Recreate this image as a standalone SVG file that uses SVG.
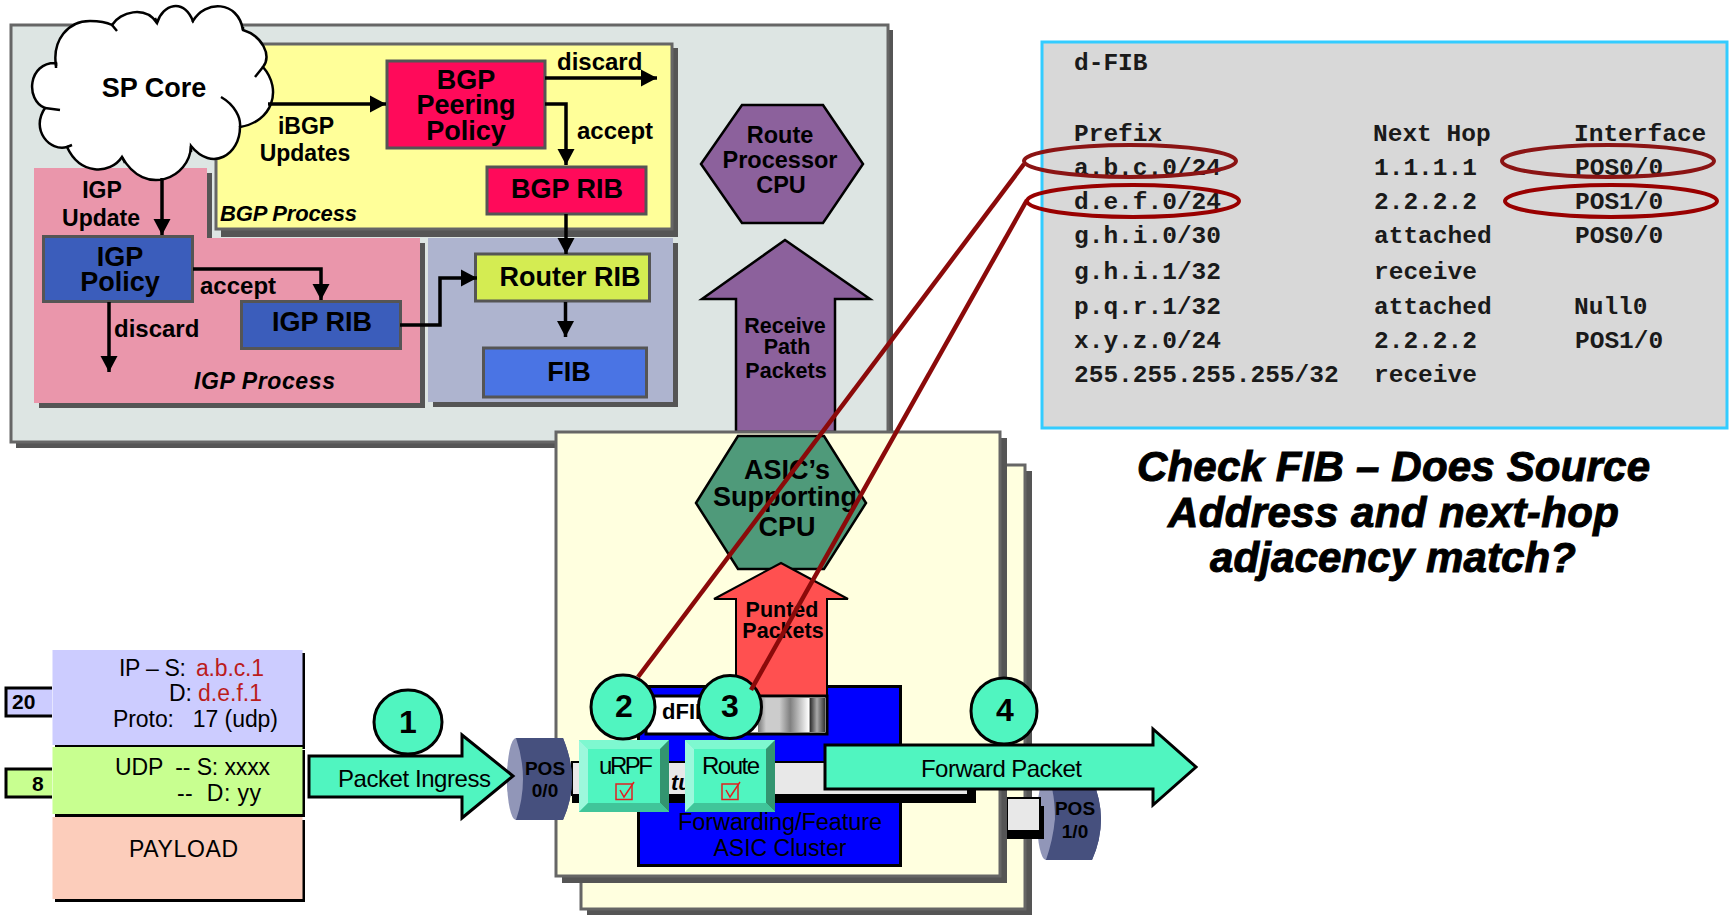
<svg xmlns="http://www.w3.org/2000/svg" width="1732" height="915" viewBox="0 0 1732 915">
<style>
text{font-family:"Liberation Sans",Arial,sans-serif;fill:#000}
.b{font-weight:bold}.m{text-anchor:middle}.i{font-style:italic;font-weight:bold}
.s{fill:#555;stroke:none}
.panel{stroke:#666;stroke-width:3}
.box{stroke:#555;stroke-width:3}
.mono{font-family:"Liberation Mono","Courier New",monospace;font-size:24.5px;font-weight:bold;fill:#1a1a1a}
.t22{font-size:22px}.t23{font-size:23px}.t24{font-size:24px}.t27{font-size:27px}
.tl{fill:#50f5c0;stroke:#000;stroke-width:3}
.num{font-size:32px;font-weight:bold;text-anchor:middle}
.red{fill:#bb1c1c}
.wire{fill:none;stroke:#000;stroke-width:3.5}
.link{fill:none;stroke:#8b0a0a;stroke-width:4.500}
.ring{fill:none;stroke:#8b1414;stroke-width:4}
.chk{fill:none;stroke:#e02020;stroke-width:1.5}
.cyl{fill:#46507e}.cyle{fill:#9196b8}
.ttl{stroke:#000;stroke-width:1}
</style>
<defs>
<marker id="ah" markerUnits="userSpaceOnUse" markerWidth="18" markerHeight="18" refX="16" refY="9" orient="auto"><path d="M0,0.5 L16,9 L0,17.500z" fill="#000"/></marker>
<linearGradient id="g" x1="0" x2="1" y1="0" y2="0">
<stop offset="0" stop-color="#777"/><stop offset=".12" stop-color="#ccc"/><stop offset=".32" stop-color="#ccc"/><stop offset=".48" stop-color="#808080"/><stop offset=".76" stop-color="#fff"/><stop offset=".78" stop-color="#333"/><stop offset=".88" stop-color="#aaa"/><stop offset="1" stop-color="#333"/>
</linearGradient>
</defs>

<g id="control-plane">
<rect class="s" x="16" y="30" width="877" height="418"/>
<rect class="panel" x="11" y="25" width="877" height="417" fill="#dde5e3"/>
</g>
<g id="igp-process">
<path class="s" d="M39,173H212V243H425V408H39z"/>
<path d="M34,168H207V238H420V403H34z" fill="#ea96ab"/>
<text class="i t23" x="194" y="389" textLength="141">IGP Process</text>
</g>
<g id="rib-panel">
<rect class="s" x="433" y="243" width="245" height="164"/>
<rect x="428" y="238" width="245" height="164" fill="#aeb4cf"/>
</g>
<g id="bgp-process">
<rect class="s" x="221" y="48" width="457" height="189"/>
<rect class="panel" x="216" y="44" width="456" height="185" fill="#ffff99"/>
<text class="i" font-size="22" x="220" y="221" textLength="137">BGP Process</text>
</g>
<g id="bgp-policy">
<rect class="box" x="387" y="61" width="158" height="87" fill="#ff0a5a"/>
<text class="b m" font-size="27" x="466" y="89">BGP</text>
<text class="b m" font-size="27" x="466" y="114">Peering</text>
<text class="b m" font-size="27" x="466" y="140">Policy</text>
</g>
<g id="bgp-rib">
<rect class="box" x="487" y="167" width="159" height="47" fill="#ff0a5a"/>
<text class="b m t27" x="567" y="198">BGP RIB</text>
</g>
<g id="router-rib">
<rect class="box" x="475.500" y="254" width="174" height="47" fill="#d4ec52"/>
<text class="b m t27" x="570" y="286">Router RIB</text>
</g>
<g id="fib">
<rect class="box" x="483.500" y="348" width="163" height="49" fill="#4a74e4"/>
<text class="b m t27" x="569" y="381">FIB</text>
</g>
<g id="igp-policy">
<rect class="box" x="43.500" y="236.500" width="149" height="65" fill="#3b5dbb"/>
<text class="b m t27" x="120" y="266">IGP</text>
<text class="b m t27" x="120" y="291">Policy</text>
</g>
<g id="igp-rib">
<rect class="box" x="241.500" y="301.500" width="159" height="47" fill="#3b5dbb"/>
<text class="b m t27" x="322" y="331">IGP RIB</text>
</g>
<g id="sp-core">
<path d="M56,66 C52,40 68,21 90,21 C100,21 108,23 112,25 C120,12 145,5 157,23 C163,4 183,-2 193,21 C205,0 238,0 243,30 C262,36 272,55 263,67 C283,90 272,122 240,127 C240,155 212,172 191,146 C190,178 145,198 122,157 C110,175 80,175 67,147 C50,152 30,130 45,108 C25,100 28,62 56,63z" fill="#fff" stroke="#000" stroke-width="2.500"/>
<path d="M56,63 L56,68 M112,25 L117,31 M157,23 L155,18 M193,21 L192,22 M243,30 L243,27 M255,77 L263,67 M221,97 C235,105 241,118 240,127 M191,146 L191,152 M122,157 L125,163 M67,147 L72,145 M45,108 L60,110" fill="none" stroke="#000" stroke-width="2.500"/>
<text class="b m t27" x="154" y="97">SP Core</text>
</g>
<g id="route-processor">
<polygon points="701,164 742,105 823,105 863,164 823,223 742,223" fill="#8c619c" stroke="#000" stroke-width="2.500"/>
<text class="b m" font-size="23.500" x="780" y="143">Route</text>
<text class="b m" font-size="23.500" x="780" y="168">Processor</text>
<text class="b m" font-size="23.500" x="781" y="193">CPU</text>
</g>
<g id="receive-path">
<polygon points="785,240 870,299 835,299 835,432 736,432 736,299 702,299" fill="#8c619c" stroke="#000" stroke-width="2.500"/>
<text class="b m" font-size="21.500" x="785" y="333">Receive</text>
<text class="b m" font-size="21.500" x="787" y="354">Path</text>
<text class="b m" font-size="21.500" x="786" y="378">Packets</text>
</g>
<g id="line-card-back">
<rect class="s" x="587" y="471" width="445" height="444"/>
<rect class="panel" x="581" y="465" width="444" height="444" fill="#ffffdf"/>
</g>
<g id="pos-1-0">
<path class="cyl" d="M1046,778H1092Q1101,800 1101,819Q1101,840 1092,860H1046Q1037,840 1037,819Q1037,798 1046,778z"/>
<ellipse class="cyle" cx="1046" cy="819" rx="9" ry="41"/>
<path d="M1054,778 Q1060,819 1046,860 L1092,860 Q1101,840 1101,819 Q1101,800 1092,778z" class="cyl"/>
<rect x="1007" y="806" width="37" height="33" fill="#000"/>
<rect x="1007" y="798" width="33" height="33" fill="#e8e8e8" stroke="#000" stroke-width="2"/>
<text class="b m" font-size="19" x="1075" y="815">POS</text>
<text class="b m" font-size="19" x="1075" y="838">1/0</text>
</g>
<g id="line-card-front">
<rect class="s" x="562" y="438" width="445" height="445"/>
<rect class="panel" x="556" y="432" width="444" height="444" fill="#ffffdf"/>
</g>
<g id="asic-cpu">
<polygon points="696,503 738,436 824,436 866,503 824,569 738,569" fill="#4f9a7a" stroke="#000" stroke-width="2.500"/>
<text class="b m t27" x="787" y="479">ASIC’s</text>
<text class="b m t27" x="785" y="506">Supporting</text>
<text class="b m t27" x="787" y="536">CPU</text>
</g>
<g id="asic-cluster">
<rect x="638.500" y="686.500" width="262" height="179" fill="#00f" stroke="#000" stroke-width="3"/>
<text x="678" y="830" font-size="23.500" textLength="204">Forwarding/Feature</text>
<text class="m t23" x="780" y="856">ASIC Cluster</text>
</g>
<g id="punted">
<polygon points="781,563 848,599 827,599 827,700 736,700 736,599 714,599" fill="#ff5050" stroke="#000" stroke-width="2"/>
<text class="b m" font-size="21.500" x="782" y="617">Punted</text>
<text class="b m" font-size="21.500" x="783" y="638">Packets</text>
</g>
<g id="dfib">
<rect x="646" y="696" width="181" height="38" fill="#fff" stroke="#000" stroke-width="3"/>
<rect x="758" y="698" width="67" height="34" fill="url(#g)"/>
<text class="b" font-size="22" x="662" y="719">dFIB</text>
</g>
<g id="feature-bar">
<rect x="572" y="770" width="404" height="33" fill="#000"/>
<rect x="572" y="762" width="396" height="33" fill="#e8e8e8" stroke="#000" stroke-width="2"/>
<text class="i t22" x="671" y="790">tu</text>
</g>
<g id="pos-0-0">
<path class="cyl" d="M516,738H563Q572,760 572,779Q572,800 563,820H516Q507,800 507,779Q507,758 516,738z"/>
<ellipse class="cyle" cx="516" cy="779" rx="9" ry="41"/>
<path class="cyl" d="M516,738 Q530,779 516,820 L563,820 Q572,800 572,779 Q572,760 563,738z"/>
<text class="b m" font-size="19" x="545" y="775">POS</text>
<text class="b m" font-size="19" x="545" y="797">0/0</text>
</g>
<g id="urpf">
<rect x="579" y="740" width="90" height="72" fill="#50f5c0"/>
<polygon points="579,740 669,740 660,749 588,749" fill="#7ef8d0"/>
<polygon points="579,740 588,749 588,803 579,812" fill="#9cf8dc"/>
<polygon points="669,740 669,812 660,803 660,749" fill="#339570"/>
<polygon points="579,812 669,812 660,803 588,803" fill="#40c59a"/>
<text font-size="24" x="599" y="774" textLength="54">uRPF</text>
<rect class="chk" x="616" y="784" width="16" height="15.500"/>
<path class="chk" d="M620,790L624,797L634,782"/>
</g>
<g id="route">
<rect x="685" y="740" width="90" height="72" fill="#50f5c0"/>
<polygon points="685,740 775,740 766,749 694,749" fill="#7ef8d0"/>
<polygon points="685,740 694,749 694,803 685,812" fill="#9cf8dc"/>
<polygon points="775,740 775,812 766,803 766,749" fill="#339570"/>
<polygon points="685,812 775,812 766,803 694,803" fill="#40c59a"/>
<text font-size="24" x="702" y="774" textLength="58">Route</text>
<rect class="chk" x="722" y="784" width="16" height="15.500"/>
<path class="chk" d="M726,790L730,797L740,782"/>
</g>
<g id="packet-headers">
<rect x="55" y="653" width="250" height="96" fill="#000"/>
<rect x="55" y="750" width="250" height="67" fill="#000"/>
<rect x="55" y="820" width="250" height="82" fill="#000"/>
<rect x="52.500" y="650" width="250" height="95" fill="#ccf"/>
<rect x="52.500" y="747" width="250" height="67" fill="#c8ff90"/>
<rect x="52.500" y="817" width="250" height="82" fill="#fccdbb"/>
<text class="t23" x="119" y="676" textLength="67">IP – S:</text><text class="t23 red" x="196" y="676" textLength="68">a.b.c.1</text>
<text class="t23" x="169" y="701">D:</text><text class="t23 red" x="198" y="701" textLength="64">d.e.f.1</text>
<text class="t23" x="113" y="727" textLength="165" xml:space="preserve">Proto:   17 (udp)</text>
<text class="t23" x="115" y="775" textLength="155" xml:space="preserve">UDP  -- S: xxxx</text>
<text class="t23" x="177" y="801" textLength="84" xml:space="preserve">--  D: yy</text>
<text class="t23" x="129" y="857" textLength="109">PAYLOAD</text>
</g>
<g id="len-20">
<path d="M52,688H6V716H52" fill="#ccf" stroke="#000" stroke-width="3"/>
<text class="b" font-size="21" x="12" y="709">20</text>
</g>
<g id="len-8">
<path d="M52,769H6V797H52" fill="#c8ff90" stroke="#000" stroke-width="3"/>
<text class="b" font-size="21" x="32" y="791">8</text>
</g>
<g id="packet-ingress">
<polygon class="tl" points="309,756 462,756 462,735 513,776 462,818 462,797 309,797"/>
<text font-size="24" x="338" y="787" textLength="153">Packet Ingress</text>
</g>
<g id="forward-packet">
<polygon class="tl" points="825,745 1153,745 1153,729 1196,767 1153,805 1153,789 825,789"/>
<text font-size="24" x="921" y="777" textLength="161">Forward Packet</text>
</g>
<g id="step-1"><ellipse class="tl" cx="408" cy="722" rx="34" ry="32"/><text class="num" x="408" y="733">1</text></g>
<g id="step-2"><circle class="tl" cx="623" cy="707" r="32"/><text class="num" x="624" y="717">2</text></g>
<g id="step-3"><circle class="tl" cx="730" cy="707" r="31.500"/><text class="num" x="730" y="717">3</text></g>
<g id="step-4"><circle class="tl" cx="1004" cy="711" r="33"/><text class="num" x="1005" y="721">4</text></g>

<g id="dfib-table">
<rect x="1042" y="42" width="685" height="386" fill="#d8d8d8" stroke="#33ccff" stroke-width="3"/>
<text class="mono" x="1074" y="70">d-FIB</text>
<text class="mono" x="1074" y="141">Prefix</text><text class="mono" x="1373" y="141">Next Hop</text><text class="mono" x="1574" y="141">Interface</text>
<text class="mono" x="1074" y="175">a.b.c.0/24</text><text class="mono" x="1374" y="175">1.1.1.1</text><text class="mono" x="1575" y="175">POS0/0</text>
<text class="mono" x="1074" y="209">d.e.f.0/24</text><text class="mono" x="1374" y="209">2.2.2.2</text><text class="mono" x="1575" y="209">POS1/0</text>
<text class="mono" x="1074" y="243">g.h.i.0/30</text><text class="mono" x="1374" y="243">attached</text><text class="mono" x="1575" y="243">POS0/0</text>
<text class="mono" x="1074" y="279">g.h.i.1/32</text><text class="mono" x="1374" y="279">receive</text>
<text class="mono" x="1074" y="314">p.q.r.1/32</text><text class="mono" x="1374" y="314">attached</text><text class="mono" x="1574" y="314">Null0</text>
<text class="mono" x="1074" y="348">x.y.z.0/24</text><text class="mono" x="1374" y="348">2.2.2.2</text><text class="mono" x="1575" y="348">POS1/0</text>
<text class="mono" x="1074" y="382">255.255.255.255/32</text><text class="mono" x="1374" y="382">receive</text>
</g>
<g id="check-title">
<text class="i ttl" font-size="42" x="1137" y="481" textLength="513">Check FIB – Does Source</text>
<text class="i ttl" font-size="42" x="1168" y="527" textLength="451">Address and next-hop</text>
<text class="i ttl" font-size="42" x="1210" y="572" textLength="366">adjacency match?</text>
</g>

<g id="connectors">
<path class="wire" marker-end="url(#ah)" d="M268,104H386"/>
<path class="wire" marker-end="url(#ah)" d="M545,78H657"/>
<path class="wire" marker-end="url(#ah)" d="M545,104H566V165"/>
<path class="wire" marker-end="url(#ah)" d="M566,214V254"/>
<path class="wire" marker-end="url(#ah)" d="M565.500,302V337"/>
<path class="wire" marker-end="url(#ah)" d="M400,325H440V278H477"/>
<path class="wire" marker-end="url(#ah)" d="M162,178V235"/>
<path class="wire" marker-end="url(#ah)" d="M193,269H321V300"/>
<path class="wire" marker-end="url(#ah)" d="M109,302V372"/>
<path class="link" d="M638,677L1024,164"/>
<path class="link" d="M751,690L1027,200"/>
<ellipse class="ring" cx="1130" cy="161" rx="106" ry="16"/>
<ellipse class="ring" cx="1133" cy="201" rx="106" ry="16" style="stroke:#990000"/>
<ellipse class="ring" cx="1608" cy="161" rx="106" ry="16"/>
<ellipse class="ring" cx="1611" cy="201" rx="106" ry="16" style="stroke:#990000"/>
</g>
<g id="connector-labels">
<text class="b m t23" x="306" y="134">iBGP</text>
<text class="b m t23" x="305" y="161">Updates</text>
<text class="b m t23" x="102" y="198">IGP</text>
<text class="b m t23" x="101" y="226">Update</text>
<text class="b t24" x="200" y="294">accept</text>
<text class="b t24" x="114" y="337">discard</text>
<text class="b t24" x="557" y="70">discard</text>
<text class="b t24" x="577" y="139">accept</text>
</g>
</svg>
